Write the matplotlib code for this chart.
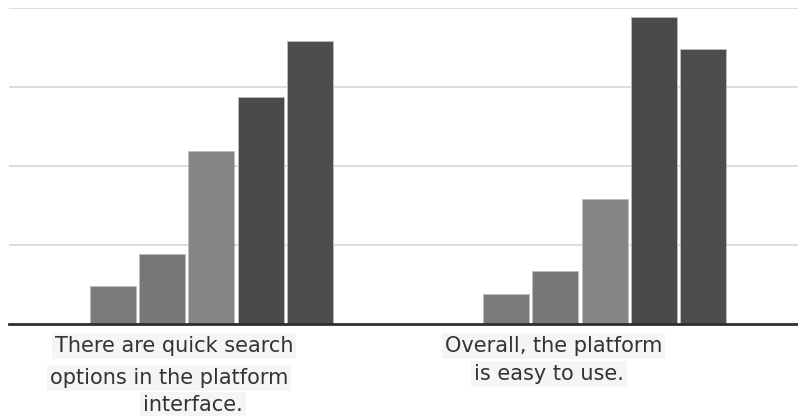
import matplotlib.pyplot as plt
import matplotlib.transforms as mtransforms
import numpy as np

statements = [
    "There are quick search options in the platform interface.",
    "Overall, the platform is easy to use.",
]
# one series per answer level, lowest to highest agreement
series_values = [
    [4.8, 3.8],
    [8.9, 6.7],
    [21.9, 15.8],
    [28.7, 38.9],
    [35.8, 34.8],
]
series_colors = ["#7b7b7b", "#777777", "#858585", "#4a4a4a", "#4d4d4d"]

# wrapped label lines: (text, left x in data units, y in axes fraction)
label_lines = [
    ("There are quick search", -0.398, -0.089),
    ("options in the platform", -0.411, -0.190),
    ("interface.", -0.174, -0.275),
    ("Overall, the platform", 0.594, -0.089),
    ("is easy to use.", 0.668, -0.177),
]

plt.rcParams["font.family"] = ["DejaVu Sans"]

fig = plt.figure(figsize=(7.98, 4.16), dpi=100)
ax = fig.add_axes([0.0113, 0.221, 0.9887, 0.760])

x = np.arange(len(statements))
pitch = 0.1255
width = 0.117
for i, (vals, col) in enumerate(zip(series_values, series_colors)):
    ax.bar(x + (i - 2) * pitch, vals, width=width, color=col,
           edgecolor="#bdbdbd", linewidth=0.6, zorder=3)

ax.set_xlim(-0.515, 1.492)
ax.set_ylim(0, 40)
ax.set_yticks([10, 20, 30, 40])
ax.yaxis.grid(True, color="#dcdcdc", linewidth=1.4, zorder=0)
ax.tick_params(left=False, bottom=False, labelleft=False, labelbottom=False)
for side in ["left", "right", "top"]:
    ax.spines[side].set_visible(False)
ax.spines["bottom"].set_color("#2e2e2e")
ax.spines["bottom"].set_linewidth(2)
ax.spines["bottom"].set_zorder(4)

trans = mtransforms.blended_transform_factory(ax.transData, ax.transAxes)
for text, tx, ty in label_lines:
    ax.text(tx, ty, text, transform=trans, ha="left", va="baseline",
            fontsize=15, color="#333333",
            bbox=dict(facecolor="#f5f5f5", edgecolor="none", pad=2))

fig.savefig("out.png", dpi=100)
